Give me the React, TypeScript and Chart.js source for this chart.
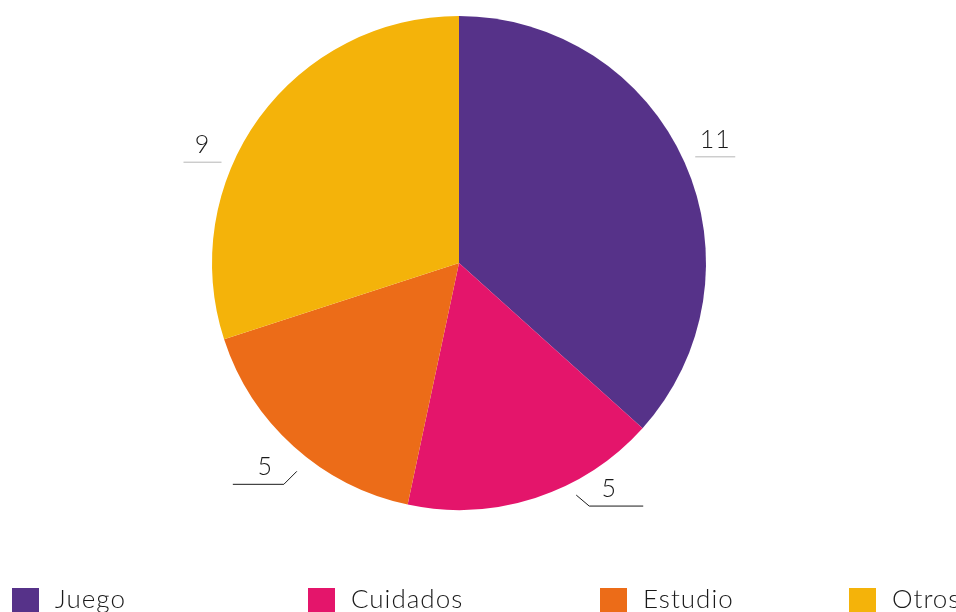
import React, { useEffect, useRef } from "react";
import { Chart, registerables } from "chart.js";

Chart.register(...registerables);

const categories = ["Juego", "Cuidados", "Estudio", "Otros"];
const values = [11, 5, 5, 9];
const colors = ["#563289", "#E4156B", "#EC6C18", "#F4B30A"];

// label leader styling (angle in degrees clockwise from top, elbow offset, horizontal run)
const labelStyles = [
  { angle: 65.8, gap: 12, elbowX: 0, elbowY: 0, run: 40, shift: 0, color: "#b5b5b5" },
  { angle: 153.2, gap: 13, elbowX: 13, elbowY: 11, run: 54, shift: -7, color: "#1a1a1a" },
  { angle: 217.9, gap: 17, elbowX: -13, elbowY: 13, run: -51, shift: 7, color: "#1a1a1a" },
  { angle: 293.0, gap: 11, elbowX: 0, elbowY: 0, run: -38, shift: 0, color: "#b5b5b5" },
];
const legendX = [12, 308, 600, 849];

const FONT = "Lato, 'DejaVu Sans', sans-serif";

const overlayPlugin = {
  id: "overlay",
  afterDraw(chart: any) {
    const ctx = chart.ctx;
    const meta = chart.getDatasetMeta(0);
    const arc0 = meta.data[0];
    const { x: cx, y: cy, outerRadius: r } = arc0.getProps(["x", "y", "outerRadius"], true);
    ctx.save();
    // labels
    meta.data.forEach((arc: any, i: number) => {
      const s = labelStyles[i];
      const a = (s.angle * Math.PI) / 180;
      const rr = r + s.gap;
      const x0 = cx + rr * Math.sin(a);
      const y0 = cy - rr * Math.cos(a);
      const x1 = x0 + s.elbowX;
      const y1 = y0 + s.elbowY;
      const x2 = x1 + s.run;
      ctx.strokeStyle = s.color;
      ctx.lineWidth = 1;
      ctx.beginPath();
      ctx.moveTo(x0, y0);
      ctx.lineTo(x1, y1);
      ctx.lineTo(x2, y1);
      ctx.stroke();
      ctx.fillStyle = "#1a1a1a";
      ctx.font = `300 25px ${FONT}`;
      (ctx as any).letterSpacing = "1px";
      ctx.textAlign = "center";
      ctx.textBaseline = "alphabetic";
      ctx.fillText(String(values[i]), (x1 + x2) / 2 + s.shift, y1 - 9);
    });
    // legend
    const ly = 588;
    categories.forEach((c, i) => {
      ctx.fillStyle = colors[i];
      ctx.fillRect(legendX[i], ly, 27, 27);
      ctx.fillStyle = "#1a1a1a";
      ctx.font = `300 26px ${FONT}`;
      (ctx as any).letterSpacing = "1px";
      ctx.textAlign = "left";
      ctx.textBaseline = "alphabetic";
      ctx.fillText(c, legendX[i] + 43, ly + 20);
    });
    ctx.restore();
  },
};

export default function App() {
  const ref = useRef<HTMLCanvasElement>(null);
  useEffect(() => {
    const chart = new Chart(ref.current!, {
      type: "pie",
      data: {
        labels: categories,
        datasets: [
          {
            data: values,
            backgroundColor: colors,
            borderWidth: 0,
            hoverOffset: 0,
          },
        ],
      },
      options: {
        responsive: false,
        animation: false,
        events: [],
        layout: { padding: { left: 212, right: 250, top: 16, bottom: 102 } },
        plugins: { legend: { display: false }, tooltip: { enabled: false } },
      },
      plugins: [overlayPlugin],
    });
    return () => chart.destroy();
  }, []);
  return (
    <canvas
      ref={ref}
      width={956}
      height={612}
      style={{ position: "absolute", left: 0, top: 0, width: 956, height: 612, background: "#fff" }}
    />
  );
}
